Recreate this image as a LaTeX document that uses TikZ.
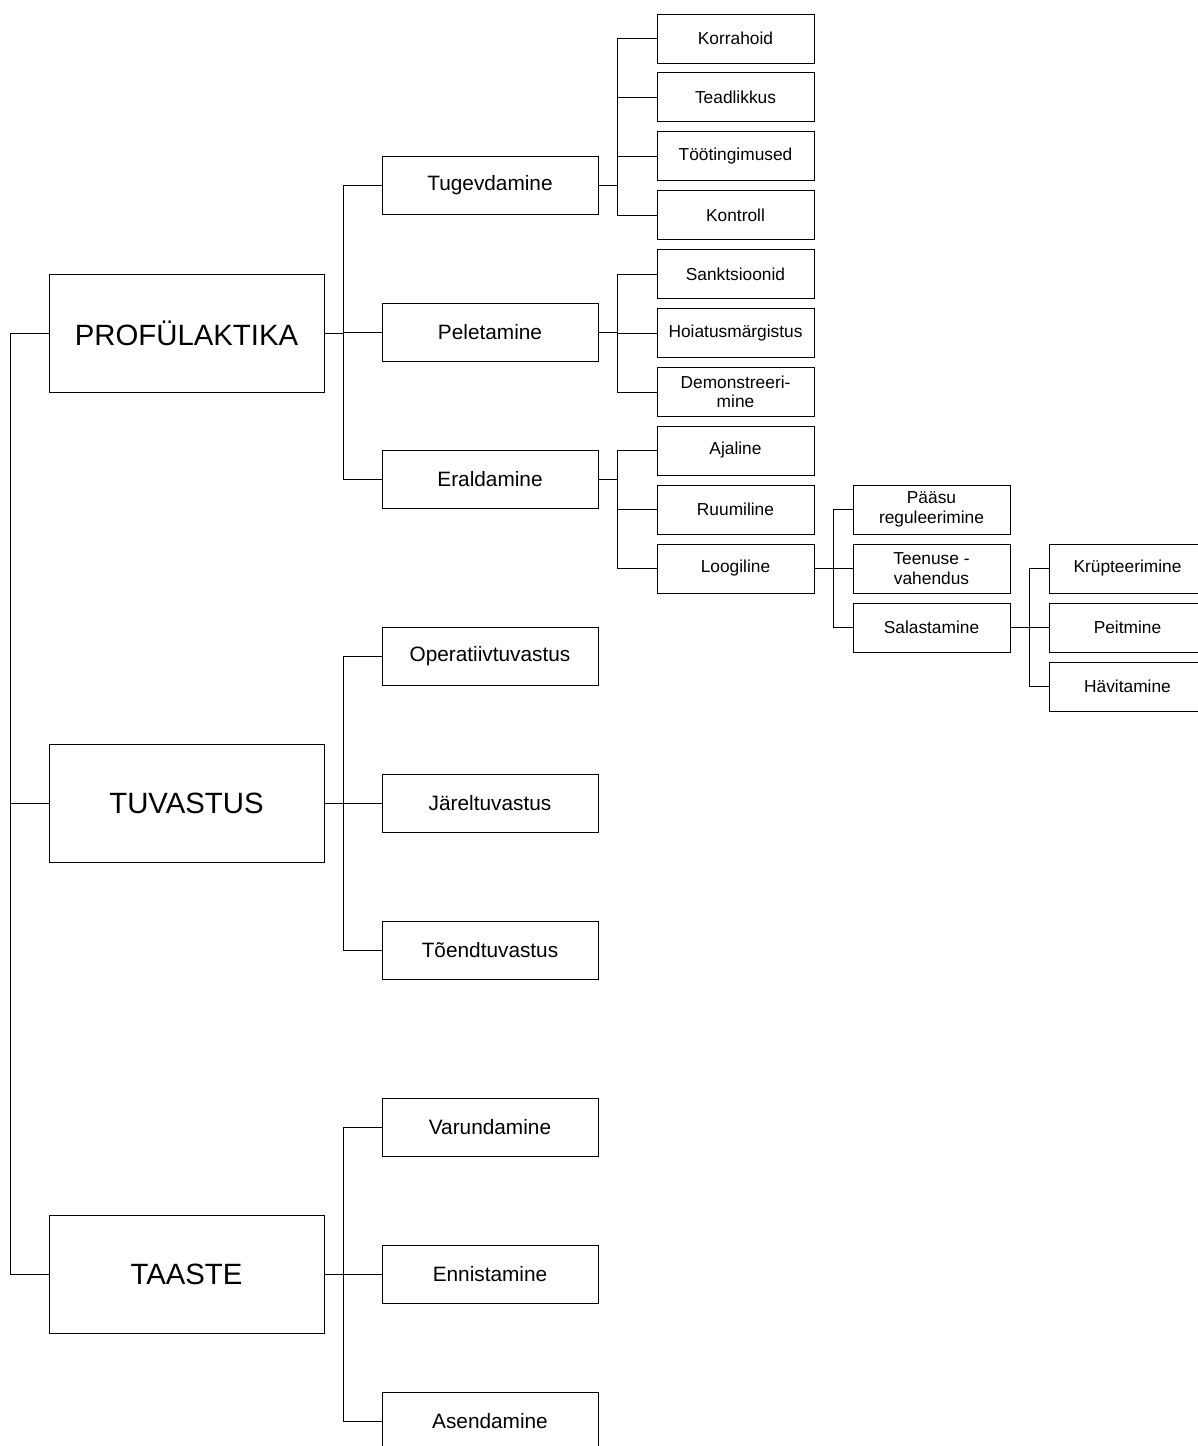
\documentclass[tikz,border=0pt]{standalone}
\usepackage{fontspec}
\setmainfont{Liberation Sans}
\begin{document}
% one drawing unit is one pixel (0.75pt)
\begin{tikzpicture}[x=0.75pt,y=-0.75pt,
  every node/.style={draw=black,line width=0.75pt,rectangle,inner sep=0pt,outer sep=0pt,align=center},
  topbox/.style={minimum width=206.25pt,minimum height=88.5pt,font=\fontsize{22}{26}\selectfont},
  midbox/.style={minimum width=162pt,minimum height=43.875pt,font=\fontsize{15.6}{18}\selectfont},
  leafbox/.style={minimum width=117.75pt,minimum height=36.75pt,font=\fontsize{13}{14.6}\selectfont},
  link/.style={draw=black,line width=0.75pt}]
\useasboundingbox (0,0) rectangle (1198,1446);
\clip (0,0) rectangle (1198,1446);

% main phases
\node[topbox] (prof) at (186.5,333) {PROFÜLAKTIKA};
\node[topbox] (tuv)  at (186.5,803.5) {TUVASTUS};
\node[topbox] (taa)  at (186.5,1274.5) {TAASTE};

% second level
\node[midbox] (tug) at (490,185.5) {Tugevdamine};
\node[midbox] (pel) at (490,332.5) {Peletamine};
\node[midbox] (era) at (490,479.5) {Eraldamine};
\node[midbox] (ope) at (490,656.5) {Operatiivtuvastus};
\node[midbox] (jar) at (490,803.5) {Järeltuvastus};
\node[midbox] (toe) at (490,950.5) {Tõendtuvastus};
\node[midbox] (var) at (490,1127.5) {Varundamine};
\node[midbox] (enn) at (490,1274.5) {Ennistamine};
\node[midbox] (ase) at (490,1421.5) {Asendamine};

% third level
\node[leafbox] (kor) at (735.5,38.5) {Korrahoid};
\node[leafbox] (tea) at (735.5,97) {Teadlikkus};
\node[leafbox] (too) at (735.5,156) {Töötingimused};
\node[leafbox] (kon) at (735.5,215) {Kontroll};
\node[leafbox] (san) at (735.5,274) {Sanktsioonid};
\node[leafbox] (hoi) at (735.5,333) {Hoiatusmärgistus};
\node[leafbox] (dem) at (735.5,392) {Demonstreeri-\\mine};
\node[leafbox] (aja) at (735.5,450.5) {Ajaline};
\node[leafbox] (ruu) at (735.5,509.5) {Ruumiline};
\node[leafbox] (loo) at (735.5,568.5) {Loogiline};

% fourth level
\node[leafbox] (paa) at (931.5,509.5) {Pääsu\\reguleerimine};
\node[leafbox] (tee) at (931.5,568.5) {Teenuse -\\vahendus};
\node[leafbox] (sal) at (931.5,627.5) {Salastamine};

% fifth level
\node[leafbox] (kru) at (1127.5,568.5) {Krüpteerimine};
\node[leafbox] (pei) at (1127.5,627.5) {Peitmine};
\node[leafbox] (hav) at (1127.5,686.5) {Hävitamine};

% left trunk joining the phases
\coordinate (trunkTop) at (10,333);
\coordinate (trunkBot) at (10,1274.5);
\draw[link] (prof.west) -- (trunkTop) -- (trunkBot) -- (taa.west);
\draw[link] (tuv.west) -- (tuv.west -| trunkTop);

% tree buses
\foreach \p/\cs in {prof/{tug,pel,era},tuv/{ope,jar,toe},taa/{var,enn,ase},
                    tug/{kor,tea,too,kon},pel/{san,hoi,dem},era/{aja,ruu,loo},
                    loo/{paa,tee,sal},sal/{kru,pei,hav}}{
  \foreach \c in \cs {
    \draw[link] (\p.east) -- ++(19.5,0) |- (\c.west);
  }
}
\end{tikzpicture}
\end{document}
